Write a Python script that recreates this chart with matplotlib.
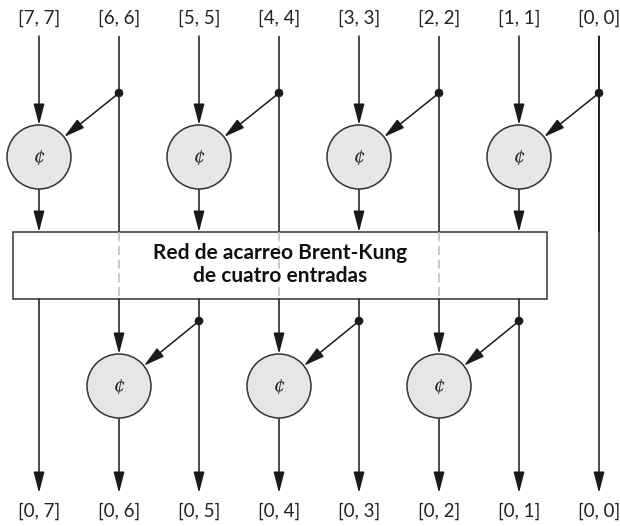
import matplotlib
matplotlib.use("Agg")
import matplotlib.pyplot as plt
from matplotlib.patches import Circle, Rectangle

plt.rcParams['font.family'] = ['Lato', 'DejaVu Sans']

# Diagram content
top_labels = ["[7, 7]", "[6, 6]", "[5, 5]", "[4, 4]", "[3, 3]", "[2, 2]", "[1, 1]", "[0, 0]"]
bottom_labels = ["[0, 7]", "[0, 6]", "[0, 5]", "[0, 4]", "[0, 3]", "[0, 2]", "[0, 1]", "[0, 0]"]
columns = [39, 119, 199, 279, 359, 439, 519, 599]
top_nodes = [0, 2, 4, 6]        # column indices with a top ¢ node (fed by column +1)
bottom_nodes = [1, 3, 5]        # column indices with a bottom ¢ node (fed by column +1)
box_text = "Red de acarreo Brent-Kung\nde cuatro entradas"
node_symbol = "¢"

W, H = 620, 526
fig = plt.figure(figsize=(W / 100, H / 100), dpi=100)
ax = fig.add_axes([0, 0, 1, 1])
ax.set_xlim(0, W)
ax.set_ylim(H, 0)
ax.axis('off')

LC = '#1a1a1a'
LW = 1.1
R = 32
y_lab_top, y_line_top = 18, 36
y_top_c, y_top_dot = 157, 93
box_l, box_r, box_t, box_b = 13, 547, 232, 299
y_bot_c, y_bot_dot = 386, 321
y_arrow_end, y_lab_bot = 493, 511

def arrow(x0, y0, x1, y1):
    ax.annotate('', xy=(x1, y1), xytext=(x0, y0),
                arrowprops=dict(arrowstyle='-|>,head_length=0.85,head_width=0.22',
                                lw=LW, color=LC, shrinkA=0, shrinkB=0,
                                mutation_scale=15), zorder=3)

def line(x0, y0, x1, y1, **kw):
    ax.plot([x0, x1], [y0, y1], color=kw.get('color', LC), lw=LW,
            ls=kw.get('ls', '-'), zorder=kw.get('z', 2), solid_capstyle='butt')

def node(x, y):
    ax.add_patch(Circle((x, y), R, facecolor='#e6e6e6', edgecolor='#333333', lw=LW, zorder=4))
    ax.text(x, y, node_symbol, ha='center', va='center', fontsize=13,
            fontstyle='italic', color='#222222', zorder=5, family=['DejaVu Serif'])

def dot(x, y):
    ax.add_patch(Circle((x, y), 4.3, facecolor=LC, edgecolor='none', zorder=5))

def diag(xd, yd, xc, yc):
    dx, dy = xc - xd, yc - yd
    d = (dx * dx + dy * dy) ** 0.5
    arrow(xd, yd, xc - R * dx / d, yc - R * dy / d)

# Labels
for x, t in zip(columns, top_labels):
    ax.text(x, y_lab_top, t, ha='center', va='center', fontsize=13.5, color='#222222')
for x, t in zip(columns, bottom_labels):
    ax.text(x, y_lab_bot, t, ha='center', va='center', fontsize=13.5, color='#222222')

# Top stage
for i in top_nodes:
    x = columns[i]
    arrow(x, y_line_top, x, y_top_c - R)
    node(x, y_top_c)
    arrow(x, y_top_c + R, x, box_t)
    xs = columns[i + 1]
    line(xs, y_line_top, xs, box_t)
    dot(xs, y_top_dot)
    diag(xs, y_top_dot, x, y_top_c)

# Box
ax.add_patch(Rectangle((box_l, box_t), box_r - box_l, box_b - box_t,
                       facecolor='white', edgecolor='#333333', lw=LW, zorder=3))
for i in [1, 3, 5]:
    x = columns[i]
    line(x, box_t, x, box_b, color='#bbbbbb', ls=(0, (6, 3)), z=4)
ax.text((box_l + box_r) / 2, (box_t + box_b) / 2 - 1, box_text, ha='center', va='center',
        fontsize=15, fontweight='bold', color='#111111', zorder=5, linespacing=1.2)

# Last column passes straight through
arrow(columns[7], y_line_top, columns[7], y_arrow_end)

# Bottom stage
for i in [0, 2, 4, 6]:
    x = columns[i]
    arrow(x, box_b, x, y_arrow_end)
for i in bottom_nodes:
    x = columns[i]
    arrow(x, box_b, x, y_bot_c - R)
    node(x, y_bot_c)
    arrow(x, y_bot_c + R, x, y_arrow_end)
    xs = columns[i + 1]
    dot(xs, y_bot_dot)
    diag(xs, y_bot_dot, x, y_bot_c)

fig.savefig('out.png', dpi=100, facecolor='white')
